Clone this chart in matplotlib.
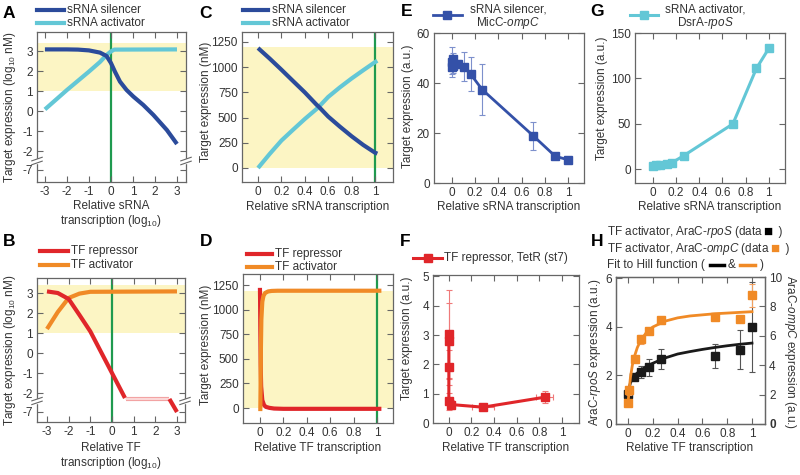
import matplotlib
matplotlib.use("Agg")
import matplotlib.pyplot as plt
from matplotlib.lines import Line2D
from matplotlib.patches import Rectangle

plt.rcParams["font.family"] = ["Liberation Sans", "DejaVu Sans"]
plt.rcParams["mathtext.fontset"] = "custom"
plt.rcParams["mathtext.rm"] = "Liberation Sans"
plt.rcParams["mathtext.it"] = "Liberation Sans:italic"
plt.rcParams["mathtext.default"] = "regular"
plt.rcParams["axes.unicode_minus"] = False

# ---- data ----
# A: log10 model, sRNA
a_sil_x = [-3, -2, -1.5, -1, -0.5, -0.2, 0, 0.18, 0.41, 0.71, 1.02, 1.47, 1.93, 2.54, 3]
a_sil_y = [3.08, 3.08, 3.07, 3.03, 2.92, 2.75, 2.4, 1.97, 1.47, 1.05, 0.72, 0.3, -0.2, -0.95, -1.65]
a_act_x = [-3, -2, -1, -0.5, -0.2, 0, 0.15, 3]
a_act_y = [0.08, 1.05, 1.97, 2.45, 2.8, 2.98, 3.07, 3.08]
# B: log10 model, TF
b_rep_x = [-3, -2.5, -2, -1.5, -1, 0, 0.6]
b_rep_y = [3.08, 3.0, 2.7, 1.9, 1.08, -1.0, -2.25]
b_flat_x = [0.65, 2.65]
b_flat_y = [-2.3, -2.3]
b_tail_x = [2.65, 3.0]
b_tail_y = [-2.3, -7]
b_act_x = [-3, -2.5, -2, -1.5, -1, 3]
b_act_y = [1.2, 2.05, 2.75, 2.97, 3.06, 3.08]
# C: linear model, sRNA
c_sil_x = [0, 0.1, 0.2, 0.3, 0.4, 0.5, 0.52, 0.6, 0.7, 0.8, 0.9, 1.0, 1.02]
c_sil_y = [1190, 1085, 975, 862, 750, 628, 607, 510, 410, 315, 228, 152, 142]
c_act_x = [0, 0.1, 0.2, 0.3, 0.4, 0.5, 0.52, 0.6, 0.7, 0.8, 0.9, 1.0, 1.02]
c_act_y = [0, 140, 272, 380, 486, 585, 607, 705, 800, 888, 970, 1050, 1064]
# D: linear model, TF
d_rep_x = [0, 0.001, 0.003, 0.006, 0.01, 0.02, 0.035, 0.05, 0.08, 0.12, 0.2, 1.02]
d_rep_y = [1200, 1100, 800, 450, 220, 80, 30, 12, 2, -5, -8, -8]
d_act_x = [0.003, 0.005, 0.008, 0.012, 0.02, 0.03, 0.045, 0.07, 0.1, 0.15, 1.02]
d_act_y = [-10, 200, 600, 900, 1080, 1140, 1170, 1185, 1190, 1192, 1192]
# E: MicC-ompC data
e_x = [0, 0, 0.005, 0.01, 0.055, 0.106, 0.16, 0.26, 0.70, 0.89, 1.0]
e_y = [46.5, 48.4, 49.7, 47.0, 47.7, 46.6, 43.6, 37.4, 18.9, 10.7, 9.3]
e_err = [3, 6, 2.5, 3, 1.5, 5.7, 6.8, 10.1, 5.5, 1.0, 0.5]
# F: TetR data
f_x = [0, 0, 0, 0, 0.018, 0.303, 0.847]
f_y = [3.03, 2.8, 1.9, 0.74, 0.63, 0.54, 0.88]
f_yerr = [1.5, 1.3, 0.6, 0.3, 0.15, 0.08, 0.2]
f_xerr = [0, 0, 0, 0, 0.01, 0.1, 0.075]
# G: DsrA-rpoS data
g_x = [0, 0.03, 0.06, 0.12, 0.165, 0.265, 0.69, 0.893, 1.0]
g_y = [4, 4.3, 4.8, 5.9, 7.4, 15, 50, 111, 133]
# H: AraC data + Hill fits
h_k_x = [0, 0.05, 0.107, 0.167, 0.263, 0.7, 0.9, 1.0]
h_k_y = [1.25, 1.95, 2.15, 2.33, 2.68, 2.8, 3.05, 4.0]
h_k_err = [0.2, 0.12, 0.25, 0.35, 0.42, 0.5, 0.8, 1.85]
h_o_x = [0, 0.005, 0.054, 0.107, 0.167, 0.263, 0.7, 0.9, 1.0]
h_o_y = [1.4, 2.3, 4.4, 5.75, 6.35, 7.05, 7.3, 7.15, 8.75]
h_o_err = [0.2, 0.3, 0.2, 0.3, 0.2, 0.25, 0.15, 0.2, 0.8]
h_kfit_x = [0, 0.01, 0.02, 0.04, 0.07, 0.1, 0.15, 0.2, 0.3, 0.4, 0.5, 0.6, 0.7, 0.8, 0.9, 1.0]
h_kfit_y = [1.2, 1.5, 1.7, 1.9, 2.08, 2.2, 2.38, 2.5, 2.72, 2.88, 2.98, 3.07, 3.15, 3.22, 3.28, 3.33]
h_ofit_x = [0, 0.01, 0.02, 0.035, 0.05, 0.075, 0.1, 0.15, 0.2, 0.3, 0.4, 0.5, 0.7, 0.85, 1.0]
h_ofit_y = [1.4, 2.4, 3.2, 4.0, 4.55, 5.2, 5.65, 6.25, 6.6, 7.0, 7.22, 7.35, 7.5, 7.57, 7.64]

# ---- styles ----
BLUE = "#2b4b9b"
CYAN = "#63c7d6"
RED = "#e0262a"
ORANGE = "#f08a26"
GREEN = "#1f9a4f"
BAND = "#fcf5c4"
EBLUE = "#3451a8"
GRID = "#666666"
TXT = "#333333"
FS = 8.5

W, H = 800, 475
fig = plt.figure(figsize=(8, 4.75), dpi=100)


def px_axes(l, t, r, b):
    return fig.add_axes([l / W, 1 - b / H, (r - l) / W, (b - t) / H])


def style(ax):
    for s in ax.spines.values():
        s.set_color(GRID)
        s.set_linewidth(0.9)
    ax.tick_params(direction="in", top=True, right=True, length=4, width=0.8,
                   color=GRID, labelsize=FS, labelcolor=TXT, pad=3)


def ftext(x, y, s, **kw):
    kw.setdefault("fontsize", FS)
    kw.setdefault("color", TXT)
    kw.setdefault("va", "center")
    return fig.text(x / W, 1 - y / H, s, **kw)


def fline(x0, x1, y, color, lw=3, **kw):
    fig.add_artist(Line2D([x0 / W, x1 / W], [1 - y / H, 1 - y / H],
                          transform=fig.transFigure, color=color, lw=lw, **kw))


def fmark(x, y, color):
    fig.add_artist(Line2D([x / W], [1 - y / H], transform=fig.transFigure,
                          color=color, marker="s", ms=6))


def letter(x, y, s):
    ftext(x, y, s, fontsize=12.5, fontweight="bold", color="black", ha="center")


def add_break(ax, ypos):
    y0, y1 = ax.get_ylim()
    f = (ypos - y0) / (y1 - y0)
    for xs in (0, 1):
        ax.add_patch(Rectangle((xs - 0.012, f - 0.012), 0.024, 0.024,
                               transform=ax.transAxes, color="white",
                               clip_on=False, zorder=5))
        for d in (-0.013, 0.013):
            ax.plot([xs - 0.035, xs + 0.035], [f + d - 0.012, f + d + 0.012],
                    transform=ax.transAxes, color=GRID, lw=0.8,
                    clip_on=False, zorder=6)


def squash(vals):
    # values below the axis break are drawn in the compressed part
    return [v if v > -2.45 else -2.95 + (v + 7) * 0.1 for v in vals]


log_ticks = [3, 2, 1, 0, -1, -2, -2.95]
log_labels = ["3", "2", "1", "0", "-1", "-2", "-7"]
x_log = [-3, -2, -1, 0, 1, 2, 3]
x_log_lab = ["-3", "-2", "-1", "0", "1", "2", "3"]
x_lin = [0, 0.2, 0.4, 0.6, 0.8, 1]
x_lin_lab = ["0", "0.2", "0.4", "0.6", "0.8", "1"]

# ---- A ----
ax = px_axes(37, 32, 186, 182)
style(ax)
ax.set_xlim(-3.36, 3.41)
ax.set_ylim(-3.55, 3.95)
ax.axhspan(1.0, 3.4, color=BAND, lw=0, zorder=0)
ax.axvline(0, color=GREEN, lw=1.6, zorder=1)
ax.plot(a_sil_x, a_sil_y, color=BLUE, lw=3, zorder=3, solid_capstyle="butt")
ax.plot(a_act_x, a_act_y, color=CYAN, lw=3, zorder=2, solid_capstyle="butt")
ax.set_yticks(log_ticks, log_labels)
ax.set_xticks(x_log, x_log_lab)
add_break(ax, -2.5)
fline(37, 64, 10, BLUE)
ftext(67, 10, "sRNA silencer")
fline(37, 64, 23, CYAN)
ftext(67, 23, "sRNA activator")
ftext(10, 107, "Target expression (log$_{10}$ nM)", rotation=90, ha="center")
ftext(111, 206, "Relative sRNA", ha="center")
ftext(111, 221, "transcription (log$_{10}$)", ha="center")
letter(9, 13, "A")

# ---- B ----
ax = px_axes(37, 278, 185, 422)
style(ax)
ax.set_xlim(-3.46, 3.37)
ax.set_ylim(-3.45, 3.75)
ax.axhspan(1.0, 3.4, color=BAND, lw=0, zorder=0)
ax.axvline(0, color=GREEN, lw=1.6, zorder=1)
ax.plot(b_act_x, b_act_y, color=ORANGE, lw=3, zorder=2, solid_capstyle="butt")
ax.plot(b_rep_x, b_rep_y, color=RED, lw=3, zorder=3, solid_capstyle="butt")
ax.plot(b_flat_x, b_flat_y, color="#f2a3a3", lw=3, zorder=3, solid_capstyle="butt")
ax.plot(b_flat_x, b_flat_y, color="#fde2e2", lw=1.2, zorder=3)
ax.plot(b_tail_x, squash(b_tail_y), color=RED, lw=3, zorder=3, solid_capstyle="butt")
ax.set_yticks(log_ticks, log_labels)
ax.set_xticks(x_log, x_log_lab)
add_break(ax, -2.4)
fline(40, 68, 251, RED)
ftext(71, 251, "TF repressor")
fline(40, 68, 265, ORANGE)
ftext(71, 265, "TF activator")
ftext(10, 350, "Target expression (log$_{10}$ nM)", rotation=90, ha="center")
ftext(111, 448, "Relative TF", ha="center")
ftext(111, 463, "transcription (log$_{10}$)", ha="center")
letter(9, 241, "B")

# ---- C ----
ax = px_axes(242, 32, 393, 182)
style(ax)
ax.set_xlim(-0.137, 1.154)
ax.set_ylim(-139, 1349)
ax.axhspan(0, 1200, color=BAND, lw=0, zorder=0)
ax.axvline(1, color=GREEN, lw=1.6, zorder=1)
ax.plot(c_sil_x, c_sil_y, color=BLUE, lw=3, zorder=3, solid_capstyle="butt")
ax.plot(c_act_x, c_act_y, color=CYAN, lw=3, zorder=2, solid_capstyle="butt")
ax.set_yticks([0, 250, 500, 750, 1000, 1250])
ax.set_xticks(x_lin, x_lin_lab)
fline(243, 268, 10, BLUE)
ftext(272, 10, "sRNA silencer")
fline(243, 268, 23, CYAN)
ftext(272, 23, "sRNA activator")
ftext(206, 102, "Target expression (nM)", rotation=90, ha="center")
ftext(318, 207, "Relative sRNA transcription", ha="center")
letter(206, 13, "C")

# ---- D ----
ax = px_axes(243, 274, 393, 423)
style(ax)
ax.set_xlim(-0.145, 1.137)
ax.set_ylim(-152, 1362)
ax.axhspan(0, 1190, color=BAND, lw=0, zorder=0)
ax.axvline(1, color=GREEN, lw=1.6, zorder=1)
ax.plot(d_rep_x, d_rep_y, color=RED, lw=3, zorder=2)
ax.plot(d_act_x, d_act_y, color=ORANGE, lw=3, zorder=3)
ax.set_yticks([0, 250, 500, 750, 1000, 1250])
ax.set_xticks(x_lin, x_lin_lab)
fline(247, 272, 254, RED)
ftext(275, 254, "TF repressor")
fline(247, 272, 267, ORANGE)
ftext(275, 267, "TF activator")
ftext(206, 345, "Target expression (nM)", rotation=90, ha="center")
ftext(318, 448, "Relative TF transcription", ha="center")
letter(206, 241, "D")

# ---- E ----
ax = px_axes(434, 33, 584, 183)
style(ax)
ax.set_xlim(-0.155, 1.138)
ax.set_ylim(0, 60)
ax.errorbar(e_x, e_y, yerr=e_err, fmt="none", ecolor="#7d90cc", elinewidth=0.8,
            capsize=2, capthick=0.8, zorder=2)
ax.plot(e_x, e_y, color=EBLUE, lw=2, marker="s", ms=6, zorder=3)
ax.set_yticks([0, 20, 40, 60])
ax.set_xticks(x_lin, x_lin_lab)
fline(433, 462, 15, EBLUE, lw=2)
fmark(447.5, 15, EBLUE)
ftext(508, 10, "sRNA silencer,", ha="center")
ftext(508, 23, "MicC-$\\it{ompC}$", ha="center")
ftext(408, 106, "Target expression (a.u.)", rotation=90, ha="center")
ftext(509, 207, "Relative sRNA transcription", ha="center")
letter(407, 11, "E")

# ---- F ----
ax = px_axes(433, 275, 579, 423)
style(ax)
ax.set_xlim(-0.14, 1.15)
ax.set_ylim(0, 5.05)
ax.errorbar(f_x, f_y, yerr=f_yerr, xerr=f_xerr, fmt="none", ecolor="#ef7a7a",
            elinewidth=0.8, capsize=2, capthick=0.8, zorder=2)
ax.plot(f_x, f_y, color=RED, lw=2.2, marker="s", ms=6, zorder=3)
ax.set_yticks([0, 1, 2, 3, 4, 5])
ax.set_xticks(x_lin, x_lin_lab)
fline(413, 442, 258, RED, lw=2.2)
fmark(427.5, 258, RED)
ftext(444, 258, "TF repressor, TetR (st7)")
ftext(407, 338, "Target expression (a.u.)", rotation=90, ha="center")
ftext(506, 448, "Relative TF transcription", ha="center")
letter(405, 241, "F")

# ---- G ----
ax = px_axes(635, 33, 785, 183)
style(ax)
ax.set_xlim(-0.155, 1.14)
ax.set_ylim(-15, 150)
ax.plot(g_x, g_y, color=CYAN, lw=2.2, marker="s", ms=6, zorder=3)
ax.set_yticks([0, 50, 100, 150])
ax.set_xticks(x_lin, x_lin_lab)
fline(630, 658, 15, CYAN, lw=2.2)
fmark(644, 15, CYAN)
ftext(705, 10, "sRNA activator,", ha="center")
ftext(705, 23, "DsrA-$\\it{rpoS}$", ha="center")
ftext(602, 98, "Target expression (a.u.)", rotation=90, ha="center")
ftext(710, 207, "Relative sRNA transcription", ha="center")
letter(597, 12, "G")

# ---- H ----
ax = px_axes(616, 277, 765, 424)
style(ax)
ax.tick_params(right=False)
ax.set_xlim(-0.097, 1.105)
ax.set_ylim(0, 6.05)
ax.errorbar(h_k_x, h_k_y, yerr=h_k_err, fmt="none", ecolor="#555555",
            elinewidth=0.8, capsize=2, capthick=0.8, zorder=2)
ax.plot(h_kfit_x, h_kfit_y, color="#1a1a1a", lw=2, zorder=3)
ax.plot(h_k_x, h_k_y, ls="none", marker="s", ms=6, color="#1a1a1a", zorder=4)
ax.set_yticks([0, 2, 4, 6])
ax.set_xticks(x_lin, x_lin_lab)
ax2 = ax.twinx()
style(ax2)
ax2.tick_params(left=False, top=False)
ax2.set_ylim(0, 10)
ax2.errorbar(h_o_x, h_o_y, yerr=h_o_err, fmt="none", ecolor="#f2a060",
             elinewidth=0.8, capsize=2, capthick=0.8, zorder=2)
ax2.plot(h_ofit_x, h_ofit_y, color=ORANGE, lw=2, zorder=3)
ax2.plot(h_o_x, h_o_y, ls="none", marker="s", ms=6, color=ORANGE, zorder=4)
ax2.set_yticks([0, 2, 4, 6, 8, 10])
ax2.get_yticklabels()[0].set_fontweight("bold")

r = fig.canvas.get_renderer()


def chain(x, y, parts):
    for s, c, fs in parts:
        t = ftext(x, y, s, color=c, fontsize=fs)
        x += t.get_window_extent(renderer=r).width


chain(607, 232, [("TF activator, AraC-$\\it{rpoS}$ (data ", TXT, FS), ("\u25a0", "black", 11),
                 ("  )", TXT, FS)])
chain(607, 249, [("TF activator, AraC-$\\it{ompC}$ (data ", TXT, FS), ("\u25a0", ORANGE, 11),
                 ("  )", TXT, FS)])
t = ftext(607, 265, "Fit to Hill function ( ")
x = 607 + t.get_window_extent(renderer=r).width
fline(x + 2, x + 16, 265, "black", lw=2.5)
t = ftext(x + 20, 265, "&")
x2 = x + 20 + t.get_window_extent(renderer=r).width
fline(x2 + 4, x2 + 19, 265, ORANGE, lw=2.5)
ftext(x2 + 24, 265, ")")
ftext(595, 352, "AraC-$\\it{rpoS}$ expression (a.u.)", rotation=90, ha="center")
ftext(790, 352, "AraC-$\\it{ompC}$ expression (a.u.)", rotation=270, ha="center")
ftext(690, 448, "Relative TF transcription", ha="center")
letter(597, 241, "H")

fig.savefig("out.png", dpi=100)
